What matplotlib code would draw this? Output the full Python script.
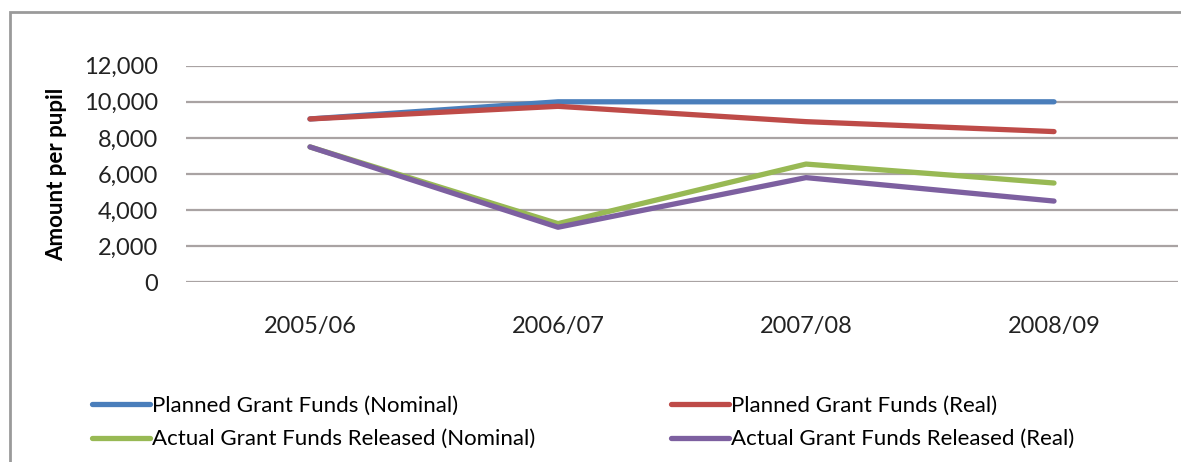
import matplotlib.pyplot as plt
from matplotlib.patches import Rectangle
from matplotlib.ticker import FuncFormatter

years = ["2005/06", "2006/07", "2007/08", "2008/09"]
planned_nominal = [9050, 10000, 10000, 10000]
planned_real = [9050, 9750, 8900, 8350]
actual_nominal = [7500, 3250, 6550, 5500]
actual_real = [7500, 3050, 5800, 4500]

series = [
    ("Planned Grant Funds (Nominal)", planned_nominal, "#4a7ebb"),
    ("Planned Grant Funds (Real)", planned_real, "#be4b48"),
    ("Actual Grant Funds Released (Nominal)", actual_nominal, "#98b954"),
    ("Actual Grant Funds Released (Real)", actual_real, "#7d60a0"),
]

plt.rcParams['font.family'] = ['Lato', 'DejaVu Sans']

W, H = 1181, 462
fig = plt.figure(figsize=(W / 100, H / 100), dpi=100)
fig.patch.set_facecolor("white")

# outer chart frame
fig.patches.append(Rectangle((10 / W, -0.1), 1.2, 1 - 12 / H + 0.1, transform=fig.transFigure,
                             fill=False, edgecolor="#9a9a9a", linewidth=2))

ax = fig.add_axes([186 / W, 1 - 282.3 / H, (1178 - 186) / W, (282.3 - 65.7) / H])
x = list(range(len(years)))
handles = {}
for label, vals, color in series:
    h, = ax.plot(x, vals, color=color, linewidth=3.8, solid_capstyle="round", label=label)
    handles[label] = h

ax.set_xlim(-0.5, 3.5)
ax.set_ylim(0, 12000)
ax.set_yticks(range(0, 12001, 2000))
ax.yaxis.set_major_formatter(FuncFormatter(lambda v, p: f"{int(v):,}"))
ax.set_xticks(x)
ax.set_xticklabels(years)
ax.grid(axis="y", color="#a9a3a3", linewidth=1.6)
ax.set_axisbelow(True)
for s in ax.spines.values():
    s.set_visible(False)
ax.tick_params(axis="both", length=0, labelsize=17, colors="#222222")
ax.tick_params(axis="y", pad=20)
ax.tick_params(axis="x", pad=24)
ax.set_ylabel("Amount per pupil", fontsize=16, fontweight="bold", labelpad=12)

order = [series[0][0], series[2][0], series[1][0], series[3][0]]
fig.legend([handles[k] for k in order], order, ncol=2, loc="upper left",
           bbox_to_anchor=(72 / W, 1 - 376 / H), frameon=False,
           prop={"size": 16},
           handlelength=2.6, handletextpad=0.1, columnspacing=6.1, labelspacing=0.6)

fig.savefig("out.png", dpi=100)
